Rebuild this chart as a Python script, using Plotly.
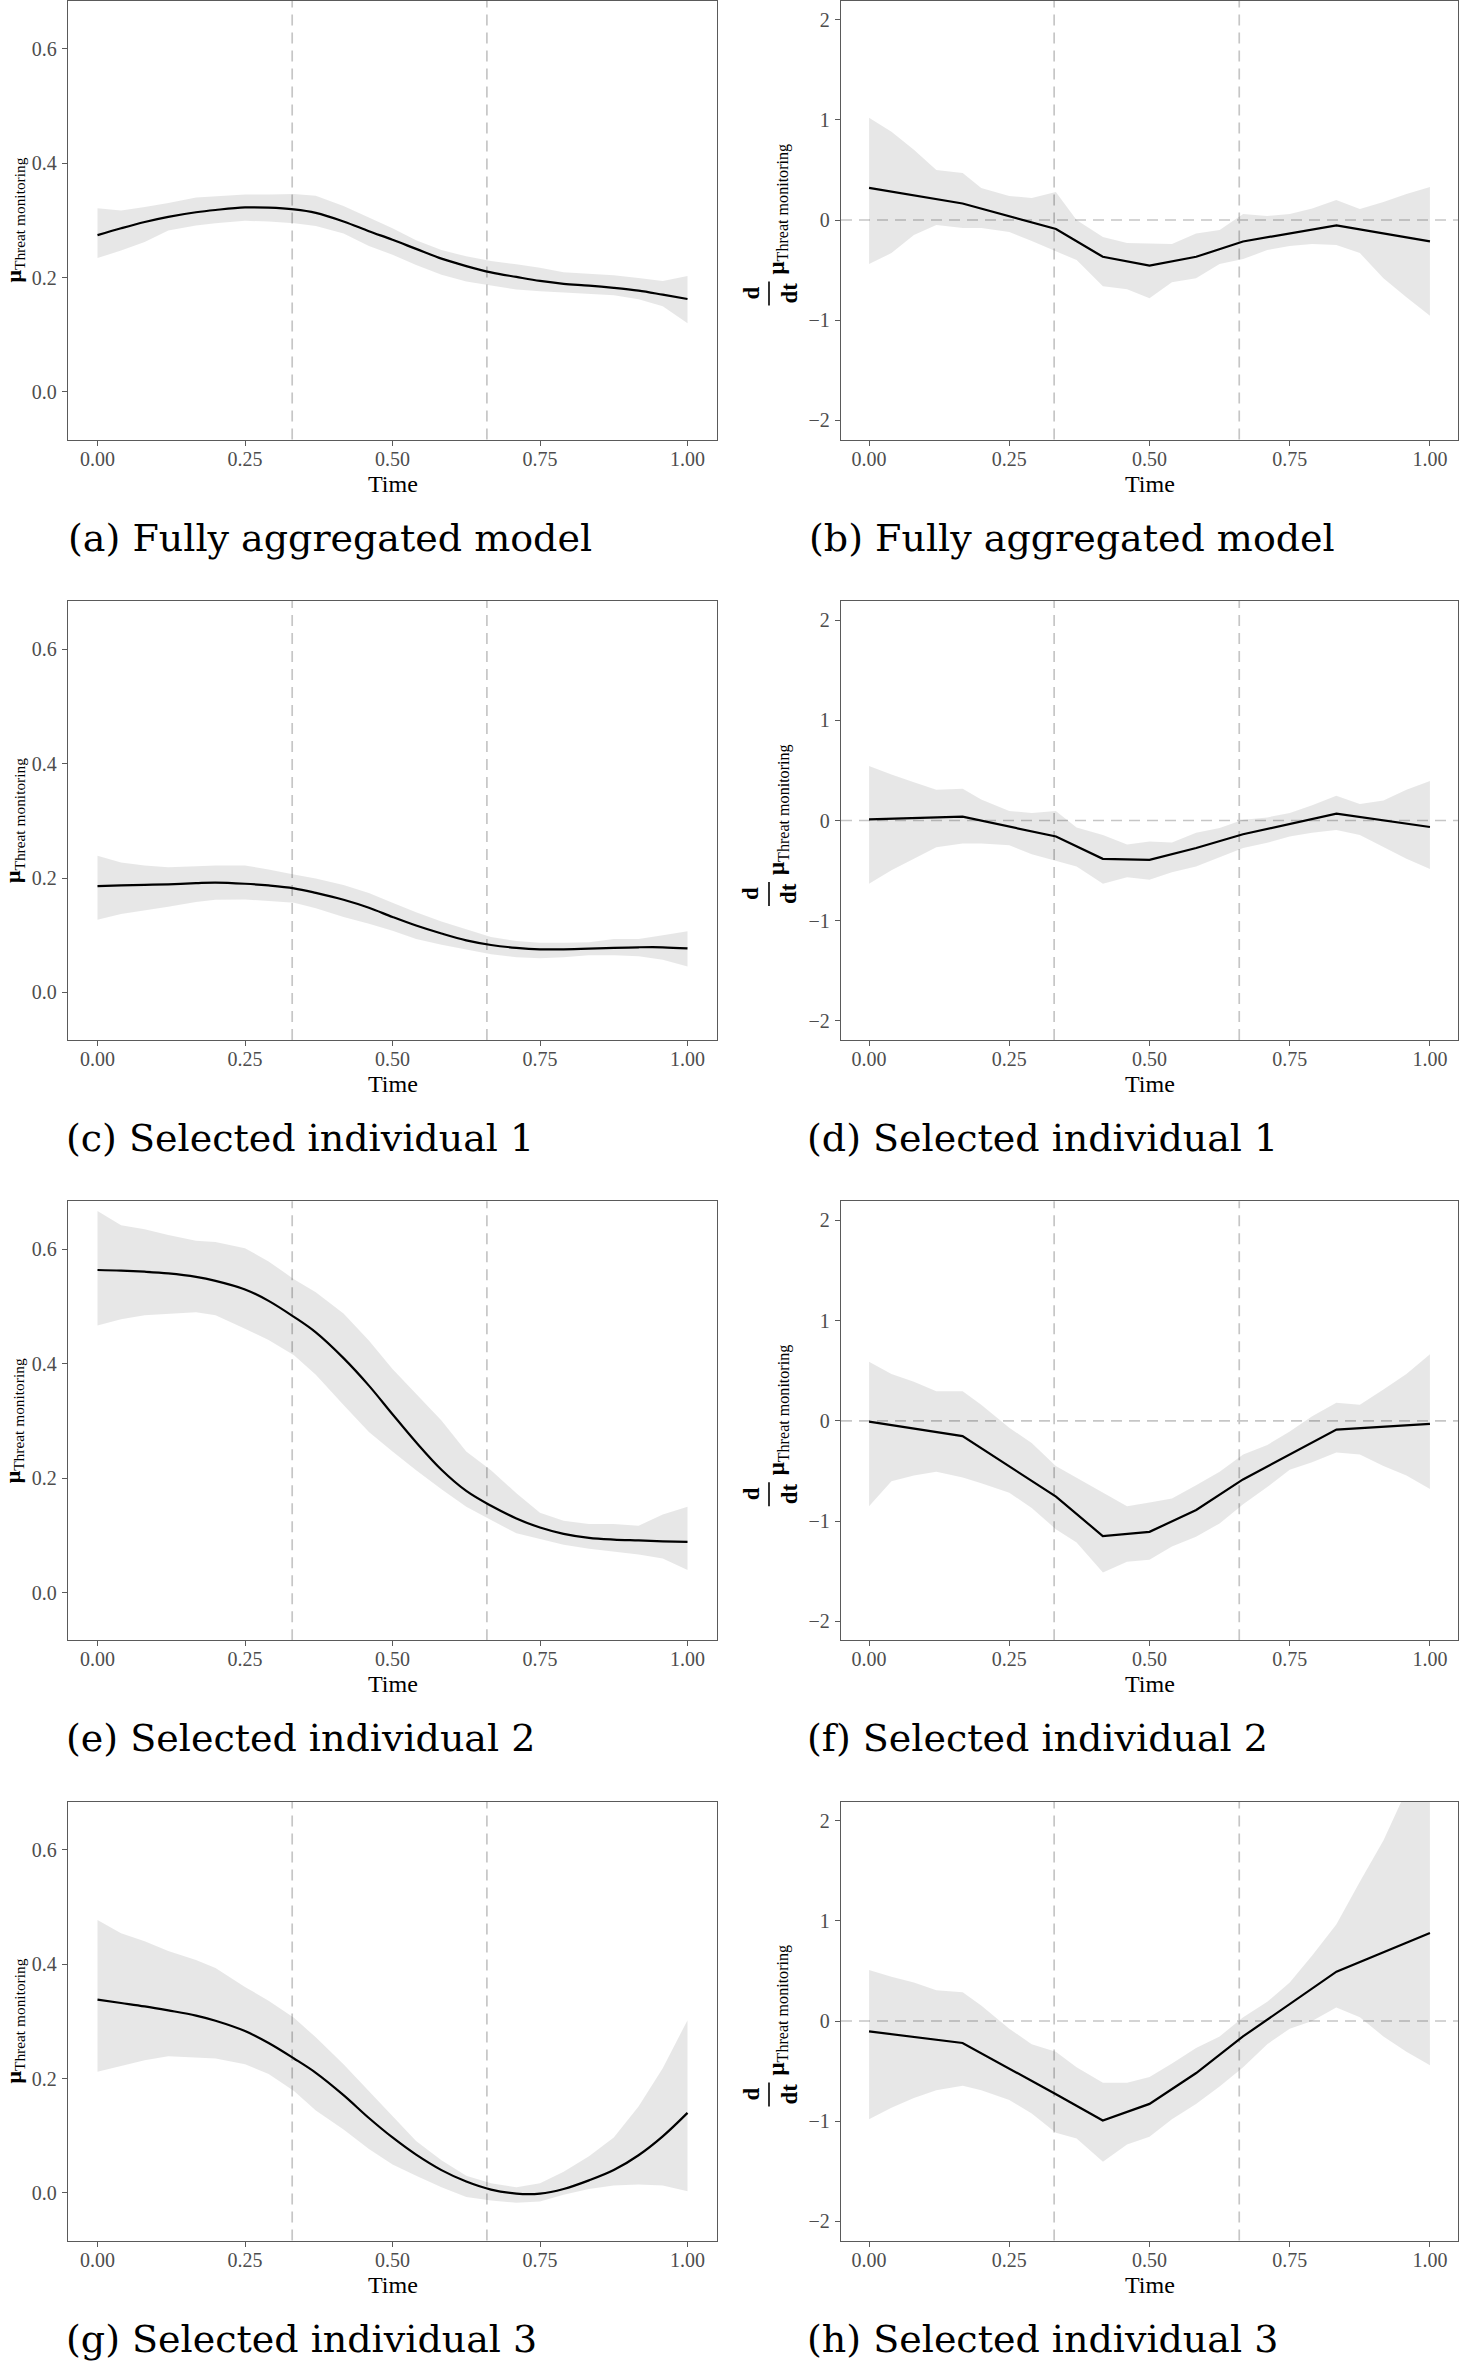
import plotly.graph_objects as go

W, H = 1460, 2363

# ---------------- data ----------------
TIME_GRID = [0.0, 0.04, 0.08, 0.12, 0.167, 0.2, 0.25, 0.29, 0.333, 0.37, 0.417, 0.46, 0.5,
             0.54, 0.583, 0.625, 0.667, 0.71, 0.75, 0.79, 0.833, 0.875, 0.917, 0.958, 1.0]
DERIV_TIME = [0.0, 0.1667, 0.3333, 0.4167, 0.5, 0.5833, 0.6667, 0.8333, 1.0]
PHASE_BOUNDS = [0.33, 0.66]

X_TICKS = [0.0, 0.25, 0.5, 0.75, 1.0]
X_TICK_LABELS = ["0.00", "0.25", "0.50", "0.75", "1.00"]
MU_TICKS = [0.0, 0.2, 0.4, 0.6]
MU_TICK_LABELS = ["0.0", "0.2", "0.4", "0.6"]
D_TICKS = [-2, -1, 0, 1, 2]
D_TICK_LABELS = ["\u22122", "\u22121", "0", "1", "2"]

CAPTIONS = ["(a) Fully aggregated model", "(b) Fully aggregated model",
            "(c) Selected individual 1", "(d) Selected individual 1",
            "(e) Selected individual 2", "(f) Selected individual 2",
            "(g) Selected individual 3", "(h) Selected individual 3"]

# (a) fully aggregated – level
MU_A = [.274, .286, .297, .306, .314, .318, .3225, .322, .319, .313, .298, .281, .266,
        .250, .233, .220, .209, .201, .194, .189, .186, .182, .177, .170, .1625]
MU_A_LO = [.234, .247, .262, .282, .291, .295, .299, .298, .295, .290, .277, .255, .240,
           .222, .205, .193, .186, .179, .176, .174, .172, .169, .162, .150, .120]
MU_A_HI = [.321, .317, .323, .330, .340, .342, .345, .345, .346, .343, .325, .305, .286,
           .265, .248, .237, .229, .223, .217, .209, .207, .204, .199, .194, .2025]
# (b) fully aggregated – derivative
D_B = [0.32, 0.165, -0.09, -0.367, -0.456, -0.367, -0.214, -0.053, -0.214]
D_B_LO = [-0.44, -0.33, -0.15, -0.05, -0.08, -0.08, -0.12, -0.21, -0.31, -0.40, -0.66, -0.69, -0.78,
          -0.62, -0.58, -0.44, -0.39, -0.30, -0.26, -0.24, -0.25, -0.33, -0.58, -0.77, -0.955]
D_B_HI = [1.02, 0.88, 0.70, 0.50, 0.47, 0.32, 0.24, 0.22, 0.28, 0.0, -0.17, -0.23, -0.235,
          -0.24, -0.135, -0.10, 0.06, 0.04, 0.06, 0.115, 0.20, 0.11, 0.18, 0.26, 0.33]
# (c) individual 1 – level
MU_C = [.186, .187, .188, .189, .191, .192, .190, .187, .182, .174, .162, .148, .132,
        .117, .103, .091, .083, .078, .0755, .0755, .0765, .078, .079, .079, .077]
MU_C_LO = [.127, .137, .1435, .150, .158, .162, .1625, .160, .157, .147, .132, .120, .108,
           .0935, .0835, .075, .067, .0615, .060, .0615, .065, .065, .0635, .057, .0455]
MU_C_HI = [.239, .227, .222, .219, .2205, .222, .222, .215, .206, .199, .188, .174, .157,
           .140, .124, .110, .097, .090, .087, .087, .088, .0935, .0935, .100, .107]
# (d) individual 1 – derivative
D_D = [0.011, 0.038, -0.16, -0.382, -0.393, -0.275, -0.1375, 0.069, -0.065]
D_D_LO = [-0.63, -0.497, -0.382, -0.267, -0.229, -0.229, -0.248, -0.336, -0.401, -0.458, -0.63, -0.565, -0.592,
          -0.516, -0.458, -0.363, -0.275, -0.222, -0.16, -0.122, -0.096, -0.145, -0.267, -0.382, -0.485]
D_D_HI = [0.543, 0.458, 0.382, 0.306, 0.317, 0.21, 0.0955, 0.076, 0.0955, -0.069, -0.145, -0.24, -0.21,
          -0.22, -0.122, -0.076, 0.008, 0.031, 0.076, 0.153, 0.248, 0.164, 0.199, 0.306, 0.393]
# (e) individual 2 – level
MU_E = [.564, .563, .561, .558, .552, .545, .530, .510, .482, .455, .410, .362, .312,
        .263, .215, .178, .152, .130, .114, .103, .096, .093, .0915, .090, .089]
MU_E_LO = [.467, .478, .485, .487, .490, .485, .4615, .4415, .415, .381, .328, .281, .247,
           .214, .181, .1505, .127, .104, .094, .084, .077, .072, .067, .060, .040]
MU_E_HI = [.667, .642, .635, .625, .615, .613, .602, .579, .548, .525, .488, .441, .391,
           .348, .301, .247, .214, .174, .140, .126, .120, .120, .117, .137, .1505]
# (f) individual 2 – derivative
D_F = [-0.008, -0.153, -0.756, -1.15, -1.108, -0.89, -0.585, -0.088, -0.031]
D_F_LO = [-0.852, -0.604, -0.546, -0.508, -0.565, -0.623, -0.718, -0.871, -1.081, -1.215, -1.513, -1.406, -1.387,
          -1.253, -1.158, -1.024, -0.833, -0.661, -0.489, -0.413, -0.317, -0.336, -0.45, -0.546, -0.68]
D_F_HI = [0.588, 0.466, 0.39, 0.294, 0.294, 0.16, -0.069, -0.222, -0.45, -0.565, -0.718, -0.852, -0.814,
          -0.776, -0.642, -0.508, -0.336, -0.241, -0.107, 0.046, 0.18, 0.16, 0.313, 0.466, 0.665]
# (g) individual 3 – level
MU_G = [.338, .332, .326, .319, .310, .301, .283, .262, .235, .210, .171, .131, .097,
        .067, .040, .020, .006, -.001, -.001, .007, .022, .040, .066, .099, .140]
MU_G_LO = [.212, .222, .232, .239, .237, .235, .225, .208, .178, .144, .111, .077, .050,
           .030, .010, -.007, -.013, -.017, -.015, -.003, .007, .013, .015, .013, .003]
MU_G_HI = [.477, .454, .440, .423, .407, .393, .360, .336, .306, .272, .225, .178, .134,
           .091, .057, .030, .017, .010, .017, .037, .064, .097, .151, .218, .302]
# (h) individual 3 – derivative
D_H = [-0.104, -0.219, -0.731, -0.992, -0.827, -0.519, -0.154, 0.492, 0.877]
D_H_LO = [-0.981, -0.865, -0.769, -0.692, -0.646, -0.692, -0.788, -0.923, -1.115, -1.173, -1.404, -1.231, -1.154,
          -0.981, -0.827, -0.654, -0.462, -0.231, -0.077, 0.0, 0.135, 0.038, -0.154, -0.308, -0.442]
D_H_HI = [0.508, 0.442, 0.385, 0.308, 0.288, 0.154, -0.077, -0.231, -0.308, -0.462, -0.615, -0.615, -0.558,
          -0.423, -0.269, -0.154, 0.038, 0.192, 0.385, 0.654, 0.962, 1.39, 1.80, 2.3, 2.7]

LEVEL_PANELS = [(MU_A, MU_A_LO, MU_A_HI), (MU_C, MU_C_LO, MU_C_HI),
                (MU_E, MU_E_LO, MU_E_HI), (MU_G, MU_G_LO, MU_G_HI)]
DERIV_PANELS = [(D_B, D_B_LO, D_B_HI), (D_D, D_D_LO, D_D_HI),
                (D_F, D_F_LO, D_F_HI), (D_H, D_H_LO, D_H_HI)]

# ---------------- layout constants ----------------
X_RANGE = [-0.05, 1.05]
MU_RANGE = [-0.083, 0.684]
D_RANGE = [-2.19, 2.19]
ROW_TOP = [0.5, 601.0, 1201.3, 1801.5]
PANEL_H = 439.0
LEFT_X = (68.0, 717.0)
RIGHT_X = (841.0, 1458.0)

SERIF = "Liberation Serif"
CAP_FONT = "DejaVu Serif"
AXIS_COLOR = "#5a5a5a"
TICK_COLOR = "#4D4D4D"
RIBBON = "rgba(0,0,0,0.095)"
DASH_COLOR = "#c6c6c6"


def px(x):
    return x / W


def py(y):
    return 1 - y / H


fig = go.Figure()
annotations = []
shapes = []
layout_axes = {}

for r in range(4):
    top = ROW_TOP[r]
    ydom = [py(top + PANEL_H), py(top)]
    for c in range(2):
        idx = r * 2 + c + 1
        xname = "x" if idx == 1 else f"x{idx}"
        yname = "y" if idx == 1 else f"y{idx}"
        xkey = "xaxis" if idx == 1 else f"xaxis{idx}"
        ykey = "yaxis" if idx == 1 else f"yaxis{idx}"
        xs = LEFT_X if c == 0 else RIGHT_X
        xdom = [px(xs[0]), px(xs[1])]

        if c == 0:
            mean, lo, hi = LEVEL_PANELS[r]
            tx = TIME_GRID
            yr, yt, ytl = MU_RANGE, MU_TICKS, MU_TICK_LABELS
        else:
            mean, lo, hi = DERIV_PANELS[r]
            tx = DERIV_TIME
            yr, yt, ytl = D_RANGE, D_TICKS, D_TICK_LABELS

        # ribbon
        fig.add_trace(go.Scatter(
            x=TIME_GRID + TIME_GRID[::-1], y=hi + lo[::-1],
            fill="toself", fillcolor=RIBBON, line=dict(width=0),
            mode="lines", hoverinfo="skip", showlegend=False,
            xaxis=xname, yaxis=yname))
        # mean
        fig.add_trace(go.Scatter(
            x=tx, y=mean, mode="lines",
            line=dict(color="black", width=2.2,
                      shape="spline" if c == 0 else "linear", smoothing=1.0),
            showlegend=False, xaxis=xname, yaxis=yname))

        # dashed phase boundaries
        for b in PHASE_BOUNDS:
            shapes.append(dict(type="line", xref=xname, yref=f"{yname} domain",
                               x0=b, x1=b, y0=0, y1=1, layer="below",
                               line=dict(color=DASH_COLOR, width=1.7, dash="11px,7px")))
        if c == 1:
            shapes.append(dict(type="line", xref=f"{xname} domain", yref=yname,
                               x0=0, x1=1, y0=0, y1=0, layer="below",
                               line=dict(color=DASH_COLOR, width=1.7, dash="11px,7px")))

        common = dict(showline=True, mirror=True, linecolor=AXIS_COLOR, linewidth=1.3,
                      ticks="outside", ticklen=5, tickwidth=1.3, tickcolor=AXIS_COLOR,
                      showgrid=False, zeroline=False,
                      tickfont=dict(family=SERIF, size=20, color=TICK_COLOR))
        layout_axes[xkey] = dict(domain=xdom, range=X_RANGE, tickvals=X_TICKS,
                                 ticktext=X_TICK_LABELS, anchor=yname,
                                 ticklabelstandoff=-4, **common)
        layout_axes[ykey] = dict(domain=ydom, range=yr, tickvals=yt, ticktext=ytl,
                                 anchor=xname, ticklabelstandoff=1, **common)

        # x title
        annotations.append(dict(text="Time", x=px((xs[0] + xs[1]) / 2), y=py(top + 483),
                                xref="paper", yref="paper", showarrow=False,
                                xanchor="center", yanchor="middle",
                                font=dict(family=SERIF, size=24, color="black")))
        # y title
        if c == 0:
            annotations.append(dict(text="<b>\u03bc</b><sub>Threat monitoring</sub>",
                                    x=px(14), y=py(top + 220), xref="paper", yref="paper",
                                    showarrow=False, textangle=-90,
                                    xanchor="center", yanchor="middle",
                                    font=dict(family=SERIF, size=22, color="black")))
        else:
            annotations.append(dict(text="<b>\u03bc</b><sub>Threat monitoring</sub>",
                                    x=px(778), y=py(top + 209), xref="paper", yref="paper",
                                    showarrow=False, textangle=-90,
                                    xanchor="center", yanchor="middle",
                                    font=dict(family=SERIF, size=23, color="black")))
            annotations.append(dict(text="<b>d</b>", x=px(751), y=py(top + 293),
                                    xref="paper", yref="paper", showarrow=False,
                                    textangle=-90, xanchor="center", yanchor="middle",
                                    font=dict(family=SERIF, size=23, color="black")))
            annotations.append(dict(text="<b>dt</b>", x=px(789), y=py(top + 293),
                                    xref="paper", yref="paper", showarrow=False,
                                    textangle=-90, xanchor="center", yanchor="middle",
                                    font=dict(family=SERIF, size=23, color="black")))
            shapes.append(dict(type="line", xref="paper", yref="paper",
                               x0=px(769), x1=px(769), y0=py(top + 281), y1=py(top + 305),
                               line=dict(color="black", width=1.6)))
        # caption
        cap_x = (66 if r == 0 else 64) if c == 0 else (807 if r == 0 else 805)
        annotations.append(dict(text=CAPTIONS[idx - 1], x=px(cap_x), y=py(top + 537),
                                xref="paper", yref="paper", showarrow=False,
                                xanchor="left", yanchor="middle",
                                font=dict(family=CAP_FONT, size=38, color="black")))

fig.update_layout(width=W, height=H, autosize=False,
                  margin=dict(l=0, r=0, t=0, b=0, pad=0),
                  paper_bgcolor="white", plot_bgcolor="white",
                  showlegend=False, annotations=annotations, shapes=shapes,
                  **layout_axes)

fig.write_html("out.html", config={"displayModeBar": False})
